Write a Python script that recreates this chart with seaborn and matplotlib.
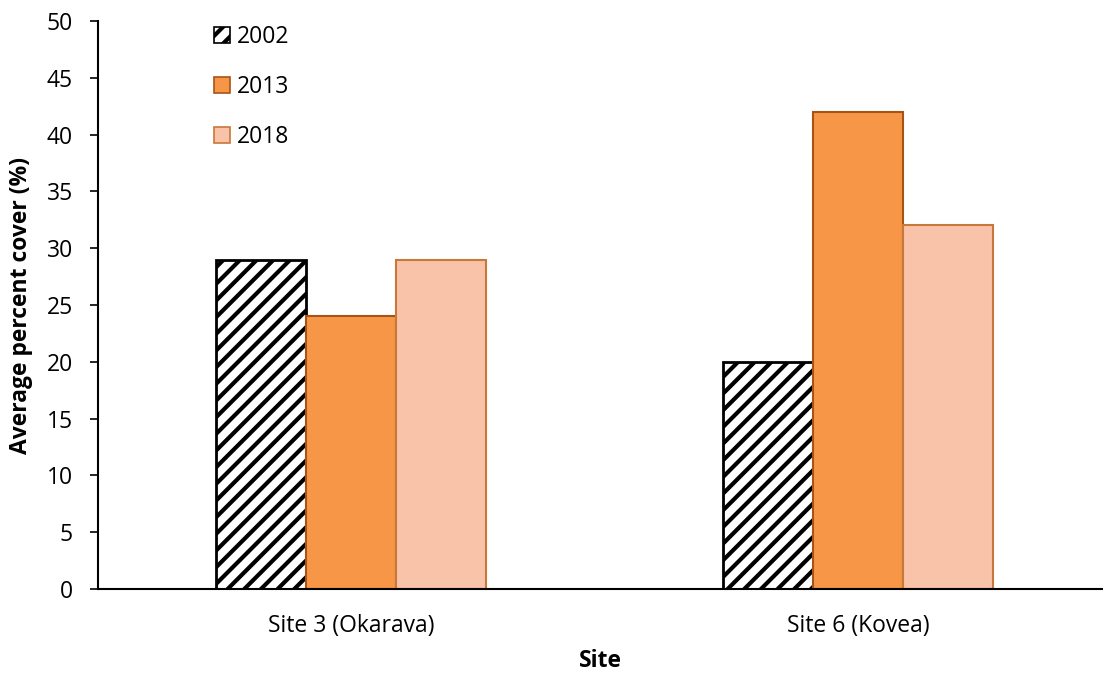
import numpy as np
import pandas as pd
import seaborn as sns
import matplotlib.pyplot as plt
from matplotlib.patches import Patch

# data
sites = ['Site 3 (Okarava)', 'Site 6 (Kovea)']
years = ['2002', '2013', '2018']
cover_2002 = [29, 20]
cover_2013 = [24, 42]
cover_2018 = [29, 32]

df = pd.DataFrame({
    'Site': sites * 3,
    'Year': [y for y in years for _ in sites],
    'Cover': cover_2002 + cover_2013 + cover_2018,
})

sns.set_theme(style='white', rc={'text.color': 'black', 'axes.labelcolor': 'black',
                                 'xtick.color': 'black', 'ytick.color': 'black'})
plt.rcParams['font.family'] = ['Open Sans', 'DejaVu Sans']
plt.rcParams['hatch.linewidth'] = 3.0

fills = {'2002': 'white', '2013': '#F79646', '2018': '#F9C3A9'}
edges = {'2002': 'black', '2013': '#A55418', '2018': '#C8783A'}

fig = plt.figure(figsize=(11.03, 6.75), dpi=100)
ax = fig.add_axes([98 / 1103, 86 / 675, 1005 / 1103, 568 / 675])

sns.barplot(ax=ax, data=df, x='Site', y='Cover', hue='Year', hue_order=years,
            palette=fills, saturation=1, width=0.533, gap=0, legend=False, errorbar=None)

for bars, yr in zip(ax.containers, years):
    for b in bars:
        b.set_edgecolor(edges[yr])
        b.set_linewidth(1.5 if yr != '2002' else 2.0)
        if yr == '2002':
            b.set_hatch('//')

ax.set_ylim(0, 50)
ax.set_yticks(np.arange(0, 51, 5))
ax.set_xlim(-0.5, 1.483)
ax.set_ylabel('Average percent cover (%)', fontsize=16.5, fontweight='bold', labelpad=10)
ax.set_xlabel('Site', fontsize=16.5, fontweight='bold', labelpad=8)
ax.tick_params(axis='y', labelsize=16.5, left=True, length=6, width=1.2, color='black', pad=12)
ax.tick_params(axis='x', labelsize=16.5, bottom=False, pad=12)
for s in ['top', 'right']:
    ax.spines[s].set_visible(False)
for s in ['left', 'bottom']:
    ax.spines[s].set_color('black')
    ax.spines[s].set_linewidth(1.5)

handles = [Patch(facecolor=fills[y], edgecolor=edges[y], hatch='//' if y == '2002' else None,
                 linewidth=1.2) for y in years]
leg = ax.legend(handles, years, loc='upper left', bbox_to_anchor=(0.095, 1.03), frameon=False,
                fontsize=16.5, handlelength=0.7, handleheight=0.7, handletextpad=0.3,
                labelspacing=1.15)

fig.savefig('out.png', dpi=100)
